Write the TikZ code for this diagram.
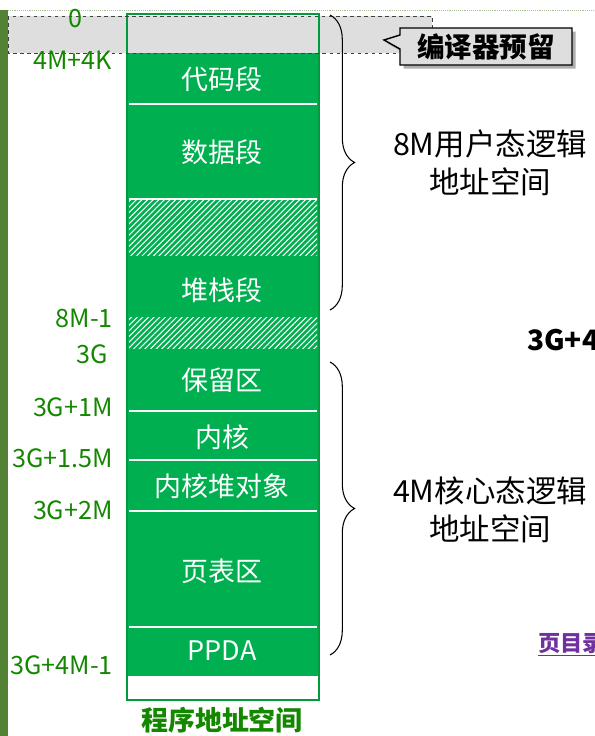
\documentclass[tikz,border=0pt]{standalone}
\usepackage{fontspec}
\setmainfont{Noto Sans CJK SC}
\usetikzlibrary{calc}
\usetikzlibrary{patterns.meta}
\usetikzlibrary{decorations.pathreplacing}
\usetikzlibrary{shapes.callouts}
\usetikzlibrary{shadows}

\definecolor{segGreen}{RGB}{0,176,80}
\definecolor{edgeGreen}{RGB}{0,155,60}
\definecolor{addrGreen}{RGB}{20,135,0}
\definecolor{barGreen}{RGB}{84,130,53}
\definecolor{resGrey}{RGB}{222,222,222}
\definecolor{linkPurple}{RGB}{112,48,160}

\tikzset{
	seg/.style={fill=segGreen},
	hatch/.style={pattern={Lines[angle=45,distance=3.4pt,line width=0.9pt]},pattern color=white},
	sep/.style={draw=white,line width=1.6pt},
	segtext/.style={text=white,font=\fontsize{23}{27}\selectfont},
	addr/.style={text=addrGreen,font=\fontsize{21.5}{25}\selectfont,anchor=east,inner sep=0pt},
	note/.style={font=\fontsize{26}{32}\selectfont,align=center},
	bracebar/.style={decorate,decoration={brace,amplitude=21pt},line width=0.9pt}
}

\begin{document}
\begin{tikzpicture}[x=0.03cm,y=-0.03cm]
	\useasboundingbox (0,0) rectangle (595,736);
	% frame of the slide
	\fill[barGreen] (0,10) rectangle (8,736);
	\draw[densely dotted,draw=barGreen!50,line width=0.6pt] (8,10) -- (595,10);
	\fill[resGrey] (8,16) rectangle (432,53);
	% segments
	\fill[seg] (127,53) rectangle (319,676);
	\fill[hatch] (129,199) rectangle (317,255);
	\fill[hatch] (129,317) rectangle (317,348);
	\foreach \y in {104,199,411,460,511,627}
		\draw[sep] (129,\y) -- (317,\y);
	\draw[edgeGreen,line width=1.2pt] (127,14) rectangle (319,700);
	\draw[dashed,line width=0.8pt,draw=black!75] (8,16) rectangle (432,53);
	\node[segtext] (code) at (222,79) {代码段};
	\node[segtext] (data) at (222,152) {数据段};
	\node[segtext] (stack) at (222,290) {堆栈段};
	\node[segtext] (resv) at (222,380) {保留区};
	\node[segtext] (kern) at (222,437) {内核};
	\node[segtext] (kheap) at (222,486) {内核堆对象};
	\node[segtext] (ptab) at (222,571) {页表区};
	\node[segtext] (ppda) at (222,651) {PPDA};
	% addresses
	\node[addr,anchor=center] (a0) at (75,19) {0};
	\node[addr] (a4k) at (112,60) {4M+4K};
	\node[addr] (a8m) at (113,318) {8M-1};
	\node[addr] (a3g) at (108,354) {3G};
	\node[addr] (a1m) at (113,407) {3G+1M};
	\node[addr] (a15m) at (113,458) {3G+1.5M};
	\node[addr] (a2m) at (113,510) {3G+2M};
	\node[addr] (a4m) at (113,665) {3G+4M-1};
	\node[text=addrGreen,font=\fontsize{23}{27}\selectfont\bfseries] (title) at (222,720) {程序地址空间};
	% braces
	\coordinate (ut) at (330,15);
	\coordinate (ub) at (330,310);
	\draw[bracebar] (ut) -- (ub);
	\node[note] (user) at (490,163) {8M用户态逻辑\\地址空间};
	\coordinate (kt) at (330,362);
	\coordinate (kb) at (330,655);
	\draw[bracebar] (kt) -- (kb);
	\node[note] (kspace) at (490,510) {4M核心态逻辑\\地址空间};
	% compiler reserve
	\node[rectangle callout,draw,line width=1.2pt,fill=resGrey,
		drop shadow={shadow xshift=3pt,shadow yshift=-3pt,fill=black!45,opacity=0.7},
		callout absolute pointer={(384,40)},callout pointer width=0.42cm,
		minimum width=5.16cm,minimum height=1.11cm,inner sep=0pt,
		font=\fontsize{23.5}{27}\selectfont\bfseries] (cres) at (486,46.5) {编译器预留};
	% cut at the right edge
	\node[anchor=west,inner sep=0pt,font=\fontsize{24}{28}\selectfont\bfseries] (cut1) at (527,340) {3G+4};
	\node[anchor=west,inner sep=0pt,text=linkPurple,font=\fontsize{19}{22}\selectfont\bfseries] (cut2) at (538,645) {\underline{页目录}};
\end{tikzpicture}
\end{document}
